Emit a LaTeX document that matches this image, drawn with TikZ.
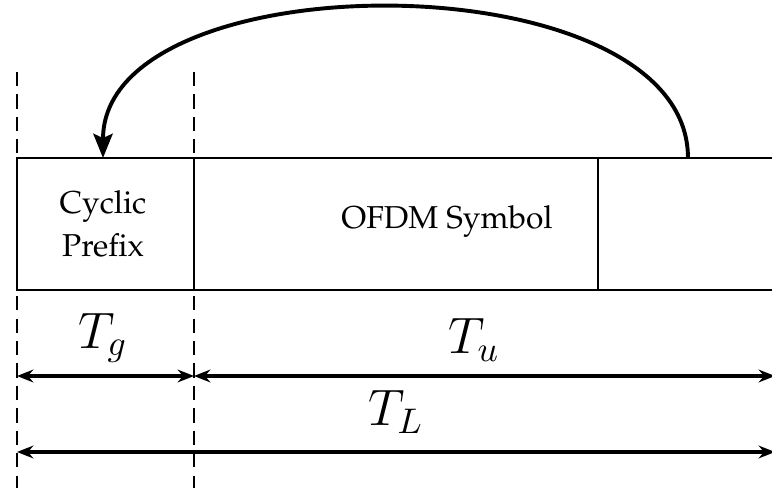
\documentclass[tikz,border=0pt]{standalone}
\usepackage[T1]{fontenc}
\renewcommand{\rmdefault}{ppl}
\usetikzlibrary{arrows.meta, positioning}
\tikzset{
  >=Stealth,
  frame/.style   = {draw, line width=0.6pt},
  sep/.style     = {draw, line width=0.8pt},
  guide/.style   = {draw, line width=0.5pt, dash pattern=on 4pt off 2.3pt},
  span/.style    = {<->, line width=0.9pt, >={Stealth[length=4.6pt, width=3.6pt]}},
  copyarc/.style = {->, line width=1.1pt, >={Stealth[length=6.8pt, width=5.4pt, inset=1.2pt]}},
  lbl/.style     = {font=\fontsize{8.9}{12.1}\selectfont, align=center, inner sep=0pt},
  dur/.style     = {font=\Large, inner sep=0pt},
}

\begin{document}
\begin{tikzpicture}[x=0.281pt, y=-0.281pt]
  \useasboundingbox (0,0) rectangle (772,488);
  \clip (0,0) rectangle (772,488);

  % ---------- frame: prefix | symbol | tail --------------------------
  \coordinate (boxNW) at (17,158);
  \coordinate (boxSE) at (800,290);
  \draw[frame] (boxNW) rectangle (boxSE);
  \draw[sep] (194,158) coordinate (cpNE) -- (194,290) coordinate (cpSE);
  \draw[sep] (598,158) coordinate (tlNW) -- (598,290) coordinate (tlSW);

  \node[lbl] (cp)  at (103,224) {Cyclic\\Prefix};
  \node[lbl] (sym) at (447,222) {OFDM Symbol};

  % ---------- dashed guides ------------------------------------------
  \coordinate (gLtop) at (17,72);
  \coordinate (gLbot) at (17,488);
  \coordinate (gRtop) at (194,72);
  \coordinate (gRbot) at (194,488);
  \draw[guide] (gLtop) -- (gLbot);
  \draw[guide] (gRtop) -- (gRbot);

  % ---------- copy of the tail into the prefix -----------------------
  \coordinate (src) at (688,158);
  \coordinate (dst) at (103,158);
  \draw[copyarc] (src) .. controls (688,-42) and (103,-42) .. (dst);

  % ---------- durations ----------------------------------------------
  \coordinate (tgL) at (17,376);
  \coordinate (tgR) at (194,376);
  \coordinate (tuR) at (775,376);
  \coordinate (tlL) at (17,452);
  \coordinate (tlR) at (775,452);
  \draw[span] (tgL) -- (tgR);
  \draw[span] (tgR) -- (tuR);
  \draw[span] (tlL) -- (tlR);

  \node[dur] (tg) at (103,338) {$T_g$};
  \node[dur] (tu) at (474,340) {$T_u$};
  \node[dur] (tl) at (396,412) {$T_L$};
\end{tikzpicture}
\end{document}
